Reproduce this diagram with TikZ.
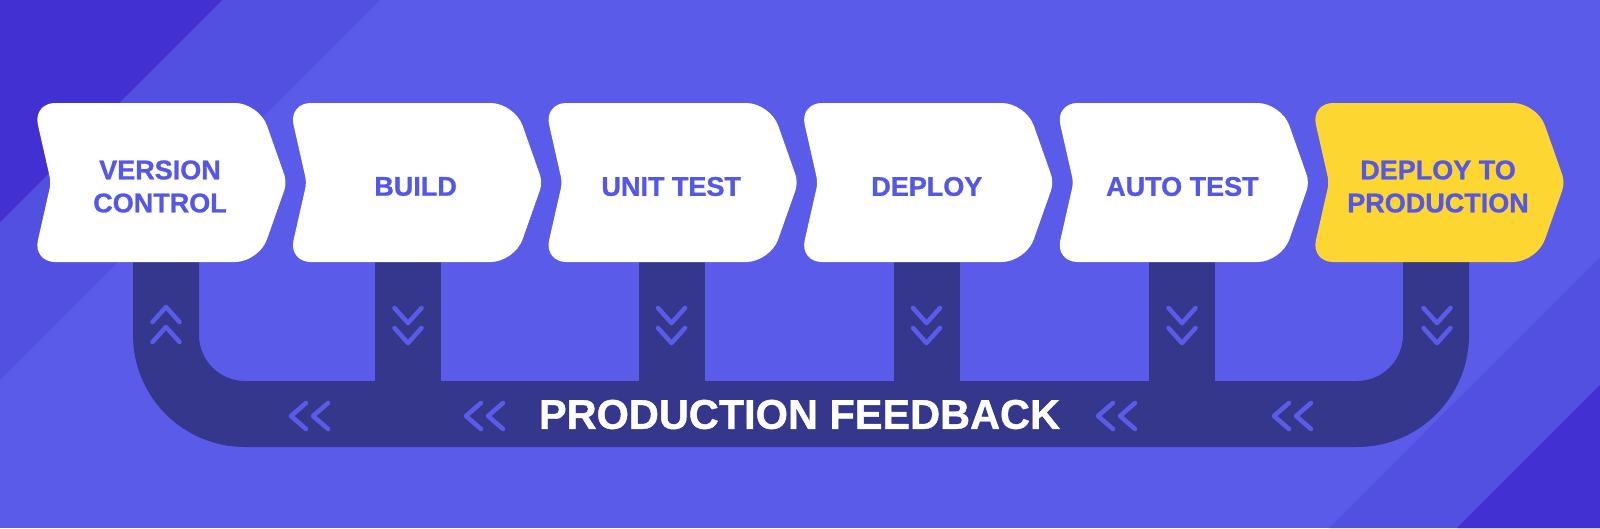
\documentclass[tikz,border=0pt]{standalone}
\usepackage{fontspec}
\setmainfont{Liberation Sans}[BoldFeatures={FakeBold=1}]
\usetikzlibrary{calc}
\definecolor{bgbase}{HTML}{5A5BE9}
\definecolor{bandmid}{HTML}{5150E1}
\definecolor{banddark}{HTML}{4230D3}
\definecolor{chan}{HTML}{35378C}
\definecolor{prodyellow}{HTML}{FDD631}
\definecolor{stagetxt}{HTML}{5558E7}
\tikzset{
  stagetext/.style={text=stagetxt, font=\bfseries\fontsize{27}{33}\selectfont, align=center, inner sep=0pt},
  chev/.style={draw=bgbase, line width=4.5pt, line cap=round, line join=round},
  chevdown/.pic={\draw[chev] (-13.5,-17) -- (0,-2) -- (13.5,-17); \draw[chev] (-13.5,3) -- (0,18) -- (13.5,3);},
  chevup/.pic={\draw[chev] (-13.5,-3) -- (0,-18) -- (13.5,-3); \draw[chev] (-13.5,17) -- (0,2) -- (13.5,17);},
  chevleft/.pic={\draw[chev] (15,-13) -- (0,0) -- (15,13); \draw[chev] (37,-13) -- (22,0) -- (37,13);}
}
% corner at #1 coming from #2 going to #3, radius #4, control offset #5
\newcommand\rc[5]{($(#1)!#4!(#2)$) .. controls ($(#1)!#5!(#2)$) and ($(#1)!#5!(#3)$) .. ($(#1)!#4!(#3)$)}
\newcommand\stageshape[2]{%
  \coordinate (vA) at ({#1-5},103);
  \coordinate (vB) at ({#1+221},103);
  \coordinate (vC) at ({#1+249},182.5);
  \coordinate (vD) at ({#1+221},262);
  \coordinate (vE) at ({#1-5},262);
  \coordinate (vF) at ({#1+13},182.5);
  \fill[#2] \rc{vB}{vA}{vC}{24pt}{10.8pt} -- \rc{vC}{vB}{vD}{8pt}{3.6pt}
    -- \rc{vD}{vC}{vE}{24pt}{10.8pt} -- \rc{vE}{vD}{vF}{22pt}{9.9pt}
    -- \rc{vF}{vE}{vA}{6pt}{2.7pt} -- \rc{vA}{vF}{vB}{22pt}{9.9pt} -- cycle;}
\begin{document}
\begin{tikzpicture}[x=1pt,y=-1pt]
\useasboundingbox (0,0) rectangle (1600,528);
% background
\fill[bgbase] (0,0) rectangle (1600,528);
\fill[bandmid] (0,0) -- (380,0) -- (0,380) -- cycle;
\fill[banddark] (0,0) -- (222,0) -- (0,222) -- cycle;
\fill[bandmid] (1600,257) -- (1600,528) -- (1329,528) -- cycle;
\fill[banddark] (1600,385) -- (1600,528) -- (1457,528) -- cycle;
% feedback channel
\fill[chan] (133,255) -- (133,335) .. controls (133,396.9) and (183.1,447) .. (245,447)
  -- (1357,447) .. controls (1418.9,447) and (1469,396.9) .. (1469,335)
  -- (1469,255) -- (1403,255) -- (1403,335) .. controls (1403,360.4) and (1382.4,381) .. (1357,381)
  -- (245,381) .. controls (219.6,381) and (199,360.4) .. (199,335) -- (199,255) -- cycle;
\foreach \cx in {408,671.5,926.5,1182} {\fill[chan] ({\cx-33},255) rectangle ({\cx+33},384);}
% stage boxes
\stageshape{38}{white}
\stageshape{293.6}{white}
\stageshape{549.2}{white}
\stageshape{804.8}{white}
\stageshape{1060.4}{white}
\stageshape{1316}{prodyellow}
\node[stagetext] (s1) at (160,186.5) {VERSION\\CONTROL};
\node[stagetext] (s2) at (415.6,186.5) {BUILD};
\node[stagetext] (s3) at (671.2,186.5) {UNIT TEST};
\node[stagetext] (s4) at (926.8,186.5) {DEPLOY};
\node[stagetext] (s5) at (1182.4,186.5) {AUTO TEST};
\node[stagetext] (s6) at (1438,186.5) {DEPLOY TO\\PRODUCTION};
% chevrons
\pic at (166,325) {chevup};
\pic at (408,325) {chevdown};
\pic at (671.5,325) {chevdown};
\pic at (926.5,325) {chevdown};
\pic at (1182,325) {chevdown};
\pic at (1437,325) {chevdown};
\pic at (291,416) {chevleft};
\pic at (466,416) {chevleft};
\pic at (1098,416) {chevleft};
\pic at (1274,416) {chevleft};
\node[text=white, font=\bfseries\fontsize{41.5}{48}\selectfont, inner sep=0pt] (fb) at (799.5,414.5) {PRODUCTION FEEDBACK};
\end{tikzpicture}
\end{document}
